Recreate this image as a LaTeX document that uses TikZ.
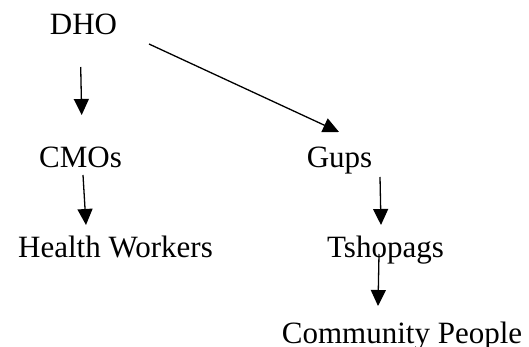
\documentclass[tikz,border=0pt]{standalone}
\usepackage{fontspec}
\setmainfont{Liberation Serif}
\usetikzlibrary{arrows.meta,calc}
\begin{document}
\begin{tikzpicture}[x=1pt,y=-1pt,
  lbl/.style={inner sep=0pt,anchor=base,font=\fontsize{31}{36}\selectfont},
  arr/.style={line width=1.3pt,-{Triangle[length=16pt,width=15pt]}}]
\useasboundingbox (0,0) rectangle (529,347);
\node[lbl] (dho)  at (83.5,35)  {DHO};
\node[lbl] (cmos) at (80.5,168) {CMOs};
\node[lbl] (gups) at (339.5,168) {Gups};
\node[lbl] (hw)   at (115.5,257) {Health Workers};
\node[lbl] (tsh)  at (385.5,257) {Tshopags};
\node[lbl] (cp)   at (402,343)  {Community People};
\draw[arr] ($(dho.base)+(-2.8,32)$) -- ($(cmos.base)+(1.2,-53)$);
\draw[arr] ($(dho.base)+(65.5,9)$) -- ($(gups.base)+(-0.5,-36)$);
\draw[arr] ($(cmos.base)+(2.5,7)$) -- ($(hw.base)+(-29.5,-32)$);
\draw[arr] ($(gups.base)+(40.5,9)$) -- ($(tsh.base)+(-4.5,-32)$);
\draw[arr] ($(tsh.base)+(-6.5,-3)$) -- ($(cp.base)+(-24,-37)$);
\end{tikzpicture}
\end{document}
